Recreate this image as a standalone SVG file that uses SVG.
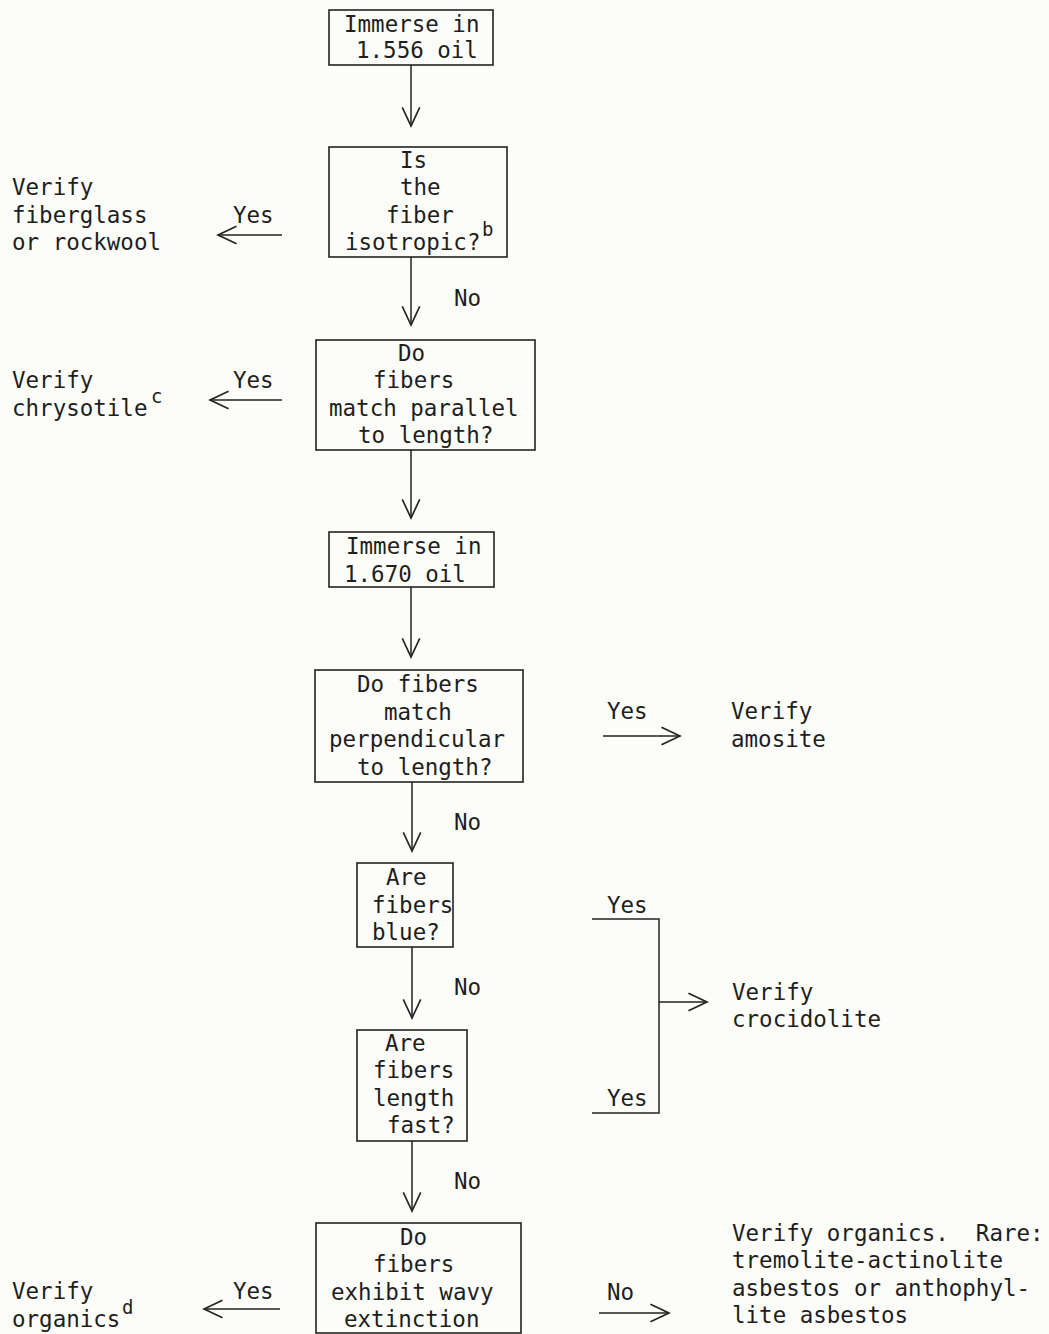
<svg xmlns="http://www.w3.org/2000/svg" width="1049" height="1334" viewBox="0 0 1049 1334">
<style>
  .bg { fill: #fcfcf9; }
  .box { fill: none; stroke: #222; stroke-width: 1.6; }
  .t { font-family: "DejaVu Sans Mono", "Liberation Mono", monospace; font-size: 22.5px; fill: #1e1e1e; }
  .sup { font-family: "DejaVu Sans Mono", "Liberation Mono", monospace; font-size: 19px; fill: #1e1e1e; }
  .c { fill: none; stroke: #222; stroke-width: 1.5; }
  .a { marker-end: url(#arr); }
</style>
<defs>
  <marker id="arr" markerUnits="userSpaceOnUse" markerWidth="24" markerHeight="24" viewBox="-20 -10 22 20" refX="0" refY="0" orient="auto">
    <path d="M-17,-8 L0,0 L-17,8" fill="none" stroke="#222" stroke-width="1.5"/>
  </marker>
</defs>
<rect class="bg" x="0" y="0" width="1049" height="1334"/>

<g id="connectors">
  <line class="c a" x1="411" y1="65" x2="411" y2="126"/>
  <line class="c a" x1="411" y1="257" x2="411" y2="325"/>
  <line class="c a" x1="411" y1="450" x2="411" y2="518"/>
  <line class="c a" x1="411" y1="587" x2="411" y2="657"/>
  <line class="c a" x1="412" y1="782" x2="412" y2="851"/>
  <line class="c a" x1="412" y1="947" x2="412" y2="1018"/>
  <line class="c a" x1="412" y1="1141" x2="412" y2="1211"/>
  <line class="c a" x1="282" y1="235" x2="218" y2="235"/>
  <line class="c a" x1="282" y1="400" x2="210" y2="400"/>
  <line class="c a" x1="603" y1="736" x2="680" y2="736"/>
  <polyline class="c" points="592,919 659,919 659,1113 592,1113"/>
  <line class="c a" x1="659" y1="1002" x2="707" y2="1002"/>
  <line class="c a" x1="280" y1="1309" x2="204" y2="1309"/>
  <line class="c a" x1="599" y1="1313" x2="669" y2="1313"/>
  <text class="t" x="233" y="223">Yes</text>
  <text class="t" x="454" y="306">No</text>
  <text class="t" x="233" y="388">Yes</text>
  <text class="t" x="607" y="719">Yes</text>
  <text class="t" x="454" y="830">No</text>
  <text class="t" x="607" y="913">Yes</text>
  <text class="t" x="454" y="995">No</text>
  <text class="t" x="607" y="1106">Yes</text>
  <text class="t" x="454" y="1189">No</text>
  <text class="t" x="233" y="1299">Yes</text>
  <text class="t" x="607" y="1300">No</text>
</g>

<g id="n1">
  <rect class="box" x="329" y="10" width="164" height="55"/>
  <text class="t" x="344" y="32">Immerse in</text>
  <text class="t" x="356" y="58">1.556 oil</text>
</g>

<g id="n2">
  <rect class="box" x="329" y="147" width="178" height="110"/>
  <text class="t" x="400" y="168">Is</text>
  <text class="t" x="400" y="195">the</text>
  <text class="t" x="386" y="223">fiber</text>
  <text class="t" x="345" y="250">isotropic?</text>
  <text class="sup" x="482" y="236">b</text>
</g>

<g id="r1">
  <text class="t" x="12" y="195">Verify</text>
  <text class="t" x="12" y="223">fiberglass</text>
  <text class="t" x="12" y="250">or rockwool</text>
</g>

<g id="n3">
  <rect class="box" x="316" y="340" width="219" height="110"/>
  <text class="t" x="398" y="361">Do</text>
  <text class="t" x="373" y="388">fibers</text>
  <text class="t" x="329" y="416">match parallel</text>
  <text class="t" x="358" y="443">to length?</text>
</g>

<g id="r2">
  <text class="t" x="12" y="388">Verify</text>
  <text class="t" x="12" y="416">chrysotile</text>
  <text class="sup" x="151" y="403">c</text>
</g>

<g id="n4">
  <rect class="box" x="329" y="532" width="165" height="55"/>
  <text class="t" x="346" y="554">Immerse in</text>
  <text class="t" x="344" y="582">1.670 oil</text>
</g>

<g id="n5">
  <rect class="box" x="315" y="670" width="208" height="112"/>
  <text class="t" x="357" y="692">Do fibers</text>
  <text class="t" x="384" y="720">match</text>
  <text class="t" x="329" y="747">perpendicular</text>
  <text class="t" x="357" y="775">to length?</text>
</g>

<g id="r3">
  <text class="t" x="731" y="719">Verify</text>
  <text class="t" x="731" y="747">amosite</text>
</g>

<g id="n6">
  <rect class="box" x="357" y="863" width="96" height="84"/>
  <text class="t" x="386" y="885">Are</text>
  <text class="t" x="372" y="913">fibers</text>
  <text class="t" x="372" y="940">blue?</text>
</g>

<g id="n7">
  <rect class="box" x="357" y="1030" width="110" height="111"/>
  <text class="t" x="385" y="1051">Are</text>
  <text class="t" x="373" y="1078">fibers</text>
  <text class="t" x="373" y="1106">length</text>
  <text class="t" x="387" y="1133">fast?</text>
</g>

<g id="r4">
  <text class="t" x="732" y="1000">Verify</text>
  <text class="t" x="732" y="1027">crocidolite</text>
</g>

<g id="n8">
  <rect class="box" x="316" y="1223" width="205" height="110"/>
  <text class="t" x="400" y="1245">Do</text>
  <text class="t" x="373" y="1272">fibers</text>
  <text class="t" x="331" y="1300">exhibit wavy</text>
  <text class="t" x="344" y="1327">extinction</text>
</g>

<g id="r5">
  <text class="t" x="12" y="1299">Verify</text>
  <text class="t" x="12" y="1327">organics</text>
  <text class="sup" x="122" y="1314">d</text>
</g>

<g id="r6">
  <text class="t" x="732" y="1241" xml:space="preserve">Verify organics.  Rare:</text>
  <text class="t" x="732" y="1268">tremolite-actinolite</text>
  <text class="t" x="732" y="1296">asbestos or anthophyl-</text>
  <text class="t" x="732" y="1323">lite asbestos</text>
</g>
</svg>
